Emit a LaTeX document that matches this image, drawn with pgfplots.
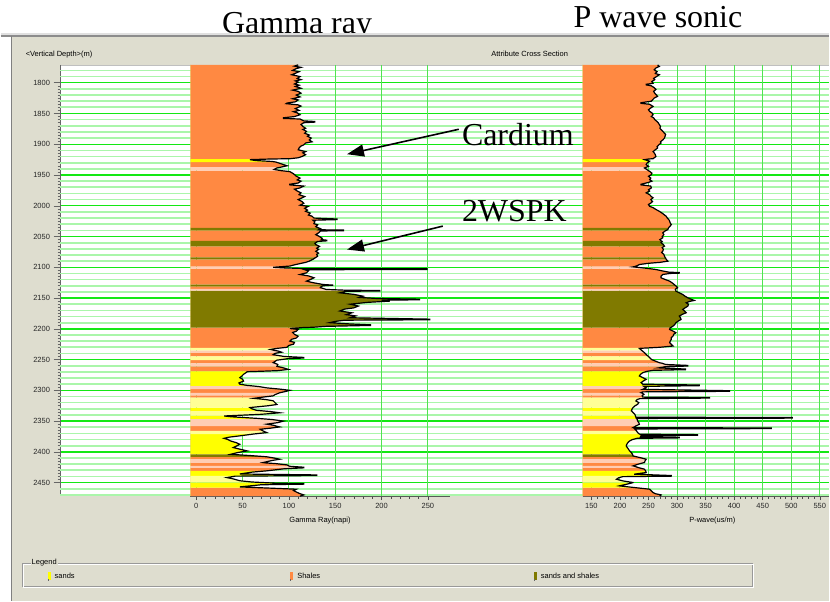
\documentclass[border=0pt]{standalone}
\usepackage{pgfplots}
\pgfplotsset{compat=1.18}
\usepackage{pgfplotstable}
\usetikzlibrary{arrows.meta}
\usepackage{fontspec}
\setmainfont{Liberation Sans}
\newfontfamily\titlefont{Liberation Serif}

\definecolor{framegray}{RGB}{222,221,207}
\definecolor{shale}{RGB}{255,137,66}
\definecolor{sand}{RGB}{255,255,0}
\definecolor{mixed}{RGB}{128,122,0}
\definecolor{palesand}{RGB}{255,255,150}
\definecolor{paleshale}{RGB}{255,205,180}
\definecolor{gridminor}{RGB}{170,246,170}
\definecolor{gridmajor}{RGB}{20,232,20}
\definecolor{gridvert}{RGB}{80,228,80}

% Gamma ray log: depth (m), GR (API), lithology code
% lith: 0 track edge, 1 shales, 2 sands, 3 sands and shales, 4 shaly streak, 5 sandy streak
\pgfplotstableread{
depth gr lith
1771 -6.5 0
1771 110 1
1773 106 1
1775 113 1
1777 108 1
1780 104 1
1782 111 1
1784 108 1
1787 103 1
1790 112 1
1793 109 1
1795 113 1
1797 107 1
1799 110 1
1802 106 1
1804 111 1
1806 107 1
1809 113 1
1812 104 1
1814 110 1
1817 113 1
1820 108 1
1823 112 1
1826 104 1
1828 110 1
1831 107 1
1833 98 1
1834 97 1
1836 110 1
1838 113 1
1842 107 1
1845 111 1
1847 105 1
1849 109 1
1852 112 1
1855 106 1
1857 94 1
1858 94 1
1859 112 1
1862 116 1
1863 128 1
1864 128 1
1865 116 1
1868 113 1
1871 115 1
1874 118 1
1876 115 1
1879 119 1
1882 117 1
1885 122 1
1887 120 1
1890 124 1
1893 122 1
1896 125 1
1898 118 1
1901 116 1
1903 113 1
1906 111 1
1909 110 1
1912 118 1
1914 115 1
1917 118 1
1920 114 1
1922 110 1
1923.5 101 1
1924 80 1
1924 80 2
1925 58 2
1926.5 64 2
1928 82 2
1929 86 2
1929 86 1
1931 90 1
1933 94 1
1935 98 1
1937 92 1
1937 92 4
1938.5 87 4
1941 84 4
1943 92 4
1943 92 1
1944.5 101 1
1948 105 1
1952 108 1
1955 112 1
1958 109 1
1960 113 1
1963 110 1
1965 101 1
1966 101 1
1968 116 1
1971 112 1
1973 106 1
1976 109 1
1979 113 1
1982 111 1
1985 117 1
1988 113 1
1990 110 1
1993 114 1
1996 116 1
1999 112 1
2001 121 1
2004 117 1
2007 120 1
2009 118 1
2012 123 1
2015 121 1
2017 125 1
2020 127 1
2021.5 152 1
2022.5 152 1
2023.5 126 1
2026 128 1
2029 127 1
2031 131 1
2034 129 1
2036 132 1
2036 132 3
2037 134 3
2039 132 3
2039.5 159 3
2040 159 3
2040 159 1
2040.5 159 1
2041 134 1
2044 132 1
2047 129 1
2050 133 1
2053 136 1
2055 135 1
2056 141 1
2057 141 1
2057 141 3
2058 131 3
2061 128 3
2063 129 3
2066 133 3
2066 133 1
2069 130 1
2071 132 1
2074 129 1
2077 132 1
2079 130 1
2082 131 1
2084 129 1
2084 129 3
2085 128 3
2087 126 3
2087 126 1
2090 122 1
2092 118 1
2094 112 1
2096 106 1
2098 101 1
2099 92 1
2099 92 4
2100 83 4
2101 95 4
2102 116 4
2102 116 1
2102.5 249 1
2103.5 249 1
2104 117 1
2106 121 1
2109 119 1
2111.7 112 1
2114 121 1
2117 127 1
2120 123 1
2122.5 119 1
2125 126 1
2128 137 1
2128 137 3
2129 148 3
2130 137 3
2131 135 3
2131 135 1
2133 134 1
2135 138 1
2135 138 4
2136 140 4
2137.3 162 4
2137.7 198 4
2138 198 4
2138 198 3
2138.5 198 3
2139 162 3
2141.5 155 3
2144 170 3
2147 180 3
2149 176 3
2150.7 195 3
2151.8 241 3
2152.8 241 3
2153.5 200 3
2155 209 3
2157 185 3
2160 166 3
2163 175 3
2166 170 3
2168 160 3
2171 155 3
2174 168 3
2177 162 3
2179 172 3
2182 166 3
2184.3 252 3
2185.3 252 3
2186 160 3
2188 150 3
2190 144 3
2192 165 3
2193.5 188 3
2194.5 188 3
2196 140 3
2197.5 126 3
2198 115 3
2198 115 1
2199.5 101 1
2201 110 1
2204 108 1
2206 104 1
2209 106 1
2212 110 1
2215 108 1
2217 103 1
2220 101 1
2222 106 1
2225 105 1
2227 100 1
2230 98 1
2231 92 1
2231 92 5
2232 86 5
2233.5 80 5
2235 84 5
2235 84 4
2236 88 4
2238 92 4
2239 88 4
2239 88 1
2240 85 1
2242 83 1
2245 95 1
2245 95 5
2246.5 116 5
2247.5 116 5
2248.5 99 5
2251 87 5
2251 87 1
2253 85 1
2255 83 1
2256 85 1
2256 85 4
2258 88 4
2261 87 4
2261 87 1
2263 93 1
2266 99.5 1
2268 88 1
2269 70 1
2269 70 2
2269.7 55 2
2272 53 2
2274 51 2
2277 49 2
2279.4 47 2
2282 50 2
2285 51 2
2288 46 2
2290 47 2
2292 55 2
2293 62 2
2293 62 4
2294 68 4
2296 76 4
2298 90 4
2298 90 1
2300 101 1
2302 96 1
2304 90 1
2304 90 4
2307 85 4
2308 84 4
2308 84 1
2309 83 1
2311 72 1
2312 67 1
2312 67 5
2313 62 5
2315 75 5
2317 83 5
2320 85 5
2323 87 5
2325 78 5
2328 58 5
2328 58 2
2330 60 2
2332.5 65 2
2334 76 2
2334 76 5
2334.5 80 5
2336.5 90 5
2339 70 5
2341 40 5
2341 40 2
2341.7 30 2
2343 38 2
2345.5 65 2
2347 78 2
2347 78 4
2347.5 82 4
2350 94 4
2352.5 88 4
2355 76 4
2357 84 4
2358 86 4
2358 86 1
2359.5 90 1
2361.5 80 1
2363.3 69 1
2366 72 1
2366 72 5
2368.7 76 5
2371 62 5
2371 62 2
2374 47 2
2376 36 2
2378 30 2
2380 34 2
2382.3 37 2
2385 43 2
2387.7 47 2
2390 44 2
2393 40 2
2396 48 2
2398.5 55 2
2401 45 2
2404 37 2
2404 37 3
2406 58 3
2408 76 3
2408 76 1
2410 84 1
2412 90 1
2412 90 4
2414 82 4
2417.4 72 4
2418 75 4
2418 75 1
2419 85 1
2421.2 98 1
2423 100 1
2423 100 4
2423.5 101 4
2425 116 4
2426 116 4
2426 116 1
2427.5 95 1
2430.9 76 1
2431 75 1
2431 75 2
2433 60 2
2436 47 2
2437.5 130 2
2438.5 130 2
2439 86 2
2439 86 5
2439.5 42 5
2441.8 33 5
2444 40 5
2447 47 5
2449 60 5
2450 73 5
2450 73 2
2451 87 2
2451.5 116 2
2452.5 116 2
2453.5 70 2
2457 47 2
2458 63 2
2458 63 1
2459 80 1
2460.7 108 1
2463 105 1
2466 109 1
2468 112 1
2470 116 1
2472 112 1
2472 -6.5 0
}\grlog

% P-wave sonic log: depth (m), slowness (us/m), lithology code
\pgfplotstableread{
depth dt lith
1771 134.6 0
1771 266 1
1773.5 269 1
1776 263 1
1779 260 1
1782 265 1
1785 262 1
1787 269 1
1790 264 1
1793 259 1
1795 261 1
1798 256 1
1801 258 1
1802.5 246 1
1803.5 246 1
1805 255 1
1808 260 1
1811 263 1
1814 259 1
1817 261 1
1820 264 1
1822 266 1
1825 260 1
1828 257 1
1830 255 1
1832.5 237 1
1833.5 237 1
1835 252 1
1838.5 258 1
1841 254 1
1844 250 1
1846.6 252 1
1849 256 1
1852 258 1
1855 255 1
1857 259 1
1860 261 1
1863 265 1
1865 267 1
1868 269 1
1871 271 1
1874 270 1
1876 272 1
1879 275 1
1882 278 1
1884 280 1
1887 279 1
1890 278 1
1893 275 1
1896 271 1
1898 272 1
1901 268 1
1904 265 1
1906 266 1
1909 262 1
1912 258 1
1914 260 1
1917 262 1
1920 263 1
1923.5 258 1
1924 250 1
1924 250 2
1925 243 2
1927.5 252 2
1929 250 2
1929 250 1
1930 248 1
1933 246 1
1936 250 1
1937 247 1
1937 247 4
1938.6 243 4
1941 247 4
1943 250 4
1943 250 1
1944 252 1
1947 256 1
1949.4 255 1
1952 250 1
1955 254 1
1957.5 252 1
1960 256 1
1962 250 1
1965 237 1
1966 237 1
1968 254 1
1971 255 1
1974 250 1
1976 252 1
1979 246 1
1982 252 1
1985 255 1
1987 258 1
1990 254 1
1993 257 1
1995 255 1
1998 250 1
2000.8 252 1
2003 258 1
2006 263 1
2009 269 1
2012 274 1
2015 278 1
2017 281 1
2020 283 1
2023 286 1
2025 287 1
2028 288 1
2030.5 290 1
2033 288 1
2036 285 1
2036 285 3
2038.7 284 3
2040 281 3
2040 281 1
2041 279 1
2044 275 1
2047 277 1
2050 274 1
2052 275 1
2055 270 1
2057 272 1
2057 272 3
2058 274 3
2060 272 3
2063 276 3
2065.7 278 3
2066 277 3
2066 277 1
2068 274 1
2071 276 1
2073.8 275 1
2076 273 1
2079 277 1
2082 278 1
2084 279 1
2084 279 3
2085 280 3
2087 281 3
2087 281 1
2088 282 1
2090 284 1
2092 270 1
2093.5 250 1
2095.5 234 1
2097.5 230 1
2099 225 1
2099 225 4
2099.3 223 4
2101 240 4
2102 250 4
2102 250 1
2103.6 263 1
2106 275 1
2108 286 1
2108.5 304 1
2109.5 304 1
2110 288 1
2111.7 275 1
2114.4 272 1
2117.1 272 1
2119.8 279 1
2122.5 287 1
2125 291 1
2128 295 1
2128 295 3
2131 299 3
2131 299 1
2133.3 301 1
2135 298 1
2135 298 4
2136 297 4
2138 298 4
2138 298 3
2138.8 298 3
2141.5 304 3
2144.2 310 3
2147 314 3
2149.6 319 3
2152 325 3
2153.9 330 3
2155.5 322 3
2157.7 316 3
2160 320 3
2163.1 319 3
2166 314 3
2168.5 310 3
2171 313 3
2173.9 316 3
2176.6 309 3
2179.3 304 3
2182 306 3
2184.8 307 3
2187.5 302 3
2190.2 298 3
2193 296 3
2195.6 293 3
2198 289 3
2198 289 1
2198.3 288 1
2201 287 1
2203.7 293 1
2206.4 298 1
2209 294 1
2211.8 293 1
2214.5 290 1
2217.2 290 1
2220 288 1
2222.6 287 1
2225.3 290 1
2228 293 1
2230 270 1
2231 250 1
2231 250 5
2231.8 234 5
2235 238 5
2235 238 4
2238.9 243 4
2239 243 4
2239 243 1
2241.6 246 1
2244.3 249 1
2245 250 1
2245 250 5
2247 252 5
2249.7 255 5
2251 258 5
2251 258 1
2252.4 262 1
2255.1 269 1
2256 274 1
2256 274 4
2258 280 4
2259.5 319 4
2260.5 319 4
2261 300 4
2261 300 1
2261.5 280 1
2263.5 268 1
2265.4 315 1
2266.4 315 1
2267.5 258 1
2269 248 1
2269 248 2
2269.5 246 2
2271.3 240 2
2274 236 2
2276.7 234 2
2279.4 240 2
2282.1 246 2
2284.8 241 2
2287.5 237 2
2290 240 2
2291.4 339 2
2292.4 339 2
2293 290 2
2293 290 4
2293.5 242 4
2295.7 246 4
2298 241 4
2298 241 1
2298.4 240 1
2300.6 392 1
2301.6 392 1
2302.5 240 1
2303.8 237 1
2304 238 1
2304 238 4
2306.5 242 4
2308 240 4
2308 240 1
2309 239 1
2311 240 1
2311.6 357 1
2312 357 1
2312 357 5
2312.6 357 5
2313.5 235 5
2315 230 5
2317.3 228 5
2320 233 5
2322.7 231 5
2325.4 226 5
2328 223 5
2328 223 2
2330.8 221 2
2333.5 220 2
2334 221 2
2334 221 5
2336.3 223 5
2339 226 5
2341 227 5
2341 227 2
2341.7 227 2
2343.7 228 2
2344.2 502 2
2345.2 502 2
2345.7 229 2
2347 230 2
2347 230 4
2349.8 231 4
2352.5 233 4
2355.2 234 4
2357.9 228 4
2358 228 4
2358 228 1
2360.6 223 1
2361.2 465 1
2362.2 465 1
2362.8 226 1
2365.6 229 1
2366 229 1
2366 229 5
2368.7 231 5
2371 234 5
2371 234 2
2371.3 235 2
2372 336 2
2373 336 2
2373.7 237 2
2375.5 236 2
2376.4 304 2
2377.3 304 2
2378 230 2
2380 222 2
2382.3 217 2
2385 214 2
2387.7 212 2
2390.4 211 2
2393.1 213 2
2395.8 215 2
2398.5 217 2
2401.2 220 2
2404 222 2
2404 222 3
2406.6 223 3
2408 229 3
2408 229 1
2409.3 235 1
2412 246 1
2412 246 4
2414.7 244 4
2417.4 243 4
2418 240 4
2418 240 1
2420 232 1
2422.8 223 1
2423 224 1
2423 224 4
2425.5 232 4
2426 234 4
2426 234 1
2428.2 243 1
2431 245 1
2431 245 2
2433.6 246 2
2436.3 225 2
2438.5 290 2
2439 290 2
2439 290 5
2439.5 290 5
2440.3 205 5
2442 198 5
2444.5 194 5
2447.2 205 5
2449.9 223 5
2450 223 5
2450 223 2
2452.6 212 2
2455.3 199 2
2458 225 2
2458 225 1
2460.7 252 1
2463.4 255 1
2466.1 258 1
2468 262 1
2470 272 1
2472 270 1
2472 134.6 0
}\dtlog

\tikzset{smalltext/.style={font=\fontsize{7.5}{9}\selectfont}}
\pgfplotsset{
  track/.style={
    scale only axis, height=432pt, anchor=south west,
    y dir=reverse, ymin=1771, ymax=2472,
    axis x line=bottom, axis y line=none,
    x axis line style={-, black!65, line width=0.6pt},
    xmajorgrids, major grid style={gridvert, line width=0.9pt},
    tick align=outside, major tick length=4pt, minor tick length=2.5pt,
    minor x tick num=4,
    every tick/.style={black!70, line width=0.5pt},
    ticklabel style={smalltext, text=black!85},
    /pgf/number format/assume math mode=true,
    /pgf/number format/1000 sep={},
  },
}

\begin{document}
\begin{tikzpicture}[x=1pt,y=1pt]
% page background sets the picture extent
\fill[white] (0,0) rectangle (830,602);

% slide titles
\node[font=\titlefont\fontsize{32}{36}\selectfont, anchor=base, inner sep=0pt] at (297,568.5) {Gamma ray};
\node[font=\titlefont\fontsize{32}{36}\selectfont, anchor=base, inner sep=0pt] at (658.5,574) {P wave sonic};

% application window
\fill[black!12] (0,566) rectangle (830,569);
\fill[framegray] (11,0) rectangle (830,566);
\draw[black!45, line width=1.2pt] (0,566) -- (830,566);
\draw[black!50, line width=1.5pt] (11,0) -- (11,566);

\node[smalltext, anchor=base west, inner sep=0pt] at (25,545.5) {<Vertical Depth>(m)};
\node[smalltext, anchor=base, inner sep=0pt] at (530,545.5) {Attribute Cross Section};

% plotting canvas
\fill[white] (60,105) rectangle (830,537);
\draw[black!25] (60,537) -- (830,537);

% depth axis with horizontal grid
\begin{axis}[
  at={(60pt,105pt)}, anchor=south west, scale only axis,
  width=770pt, height=432pt,
  xmin=0, xmax=1, ymin=1771, ymax=2472, y dir=reverse,
  axis x line=bottom, x axis line style={draw=none}, xtick=\empty,
  axis y line=left,
  y axis line style={-, black!60, line width=0.7pt},
  ytick={1800,1850,...,2450}, minor y tick num=9,
  tick align=outside, major tick length=7pt, minor tick length=3pt,
  every tick/.style={black!60, line width=0.5pt},
  yticklabel style={smalltext, text=black!85},
  /pgf/number format/assume math mode=true,
  /pgf/number format/1000 sep={},
  ymajorgrids, major grid style={gridmajor, line width=1.4pt},
  extra y ticks={1780,1790,1810,1820,1830,1840,1860,1870,1880,1890,1910,1920,1930,1940,1960,1970,1980,1990,2010,2020,2030,2040,2060,2070,2080,2090,2110,2120,2130,2140,2160,2170,2180,2190,2210,2220,2230,2240,2260,2270,2280,2290,2310,2320,2330,2340,2360,2370,2380,2390,2410,2420,2430,2440,2460,2470},
  extra y tick labels={},
  extra y tick style={grid=major, major grid style={gridminor, line width=1.7pt}, major tick length=0pt},
]
\addplot[draw=none] coordinates {(0,1771) (1,2472)};
\end{axis}

% gamma ray track: lithology fill from the track edge to the curve, then the curve
\begin{axis}[track, at={(190pt,105pt)}, width=260pt,
  xmin=-6.5, xmax=273.7, xtick={0,50,...,250}]
\addplot[draw=none, fill=shale] table[x expr={\thisrow{lith}==1 ? \thisrow{gr} : -6.5}, y=depth] {\grlog};
\addplot[draw=none, fill=sand] table[x expr={\thisrow{lith}==2 ? \thisrow{gr} : -6.5}, y=depth] {\grlog};
\addplot[draw=none, fill=mixed] table[x expr={\thisrow{lith}==3 ? \thisrow{gr} : -6.5}, y=depth] {\grlog};
\addplot[draw=none, fill=paleshale] table[x expr={\thisrow{lith}==4 ? \thisrow{gr} : -6.5}, y=depth] {\grlog};
\addplot[draw=none, fill=palesand] table[x expr={\thisrow{lith}==5 ? \thisrow{gr} : -6.5}, y=depth] {\grlog};
\addplot[black, line width=1.2pt, restrict x to domain=-5:700] table[x=gr, y=depth] {\grlog};
\end{axis}

% sonic track
\begin{axis}[track, at={(583pt,105pt)}, width=247pt,
  xmin=134.6, xmax=566.4, xtick={150,200,...,550}]
\addplot[draw=none, fill=shale] table[x expr={\thisrow{lith}==1 ? \thisrow{dt} : 134.6}, y=depth] {\dtlog};
\addplot[draw=none, fill=sand] table[x expr={\thisrow{lith}==2 ? \thisrow{dt} : 134.6}, y=depth] {\dtlog};
\addplot[draw=none, fill=mixed] table[x expr={\thisrow{lith}==3 ? \thisrow{dt} : 134.6}, y=depth] {\dtlog};
\addplot[draw=none, fill=paleshale] table[x expr={\thisrow{lith}==4 ? \thisrow{dt} : 134.6}, y=depth] {\dtlog};
\addplot[draw=none, fill=palesand] table[x expr={\thisrow{lith}==5 ? \thisrow{dt} : 134.6}, y=depth] {\dtlog};
\addplot[black, line width=1.2pt, restrict x to domain=140:700] table[x=dt, y=depth] {\dtlog};
\end{axis}

\node[smalltext, anchor=center] at (320,81) {Gamma Ray(napi)};
\node[smalltext, anchor=center] at (713,81) {P-wave(us/m)};

% formation markers
\node[font=\titlefont\fontsize{32}{36}\selectfont, anchor=base west, inner sep=0pt] at (462,456.5) {Cardium};
\node[font=\titlefont\fontsize{32}{36}\selectfont, anchor=base west, inner sep=0pt] at (462,380) {2WSPK};
\draw[line width=1.6pt, -{Triangle[length=17pt,width=12pt]}] (459,472.5) -- (347,447.5);
\draw[line width=1.6pt, -{Triangle[length=17pt,width=12pt]}] (443,375.5) -- (347,352);

% legend group box
\draw[black!40] (22,15) rectangle (753,38);
\draw[white] (23,14) rectangle (754,37);
\node[smalltext, fill=framegray, inner sep=1pt, anchor=west] at (30,38) {Legend};
\fill[sand] (47,21) rectangle (50,29);
\fill[black!60] (47,20) rectangle (48,22);
\node[smalltext, anchor=west, inner sep=1pt] at (53,25.5) {sands};
\fill[shale] (290,21) rectangle (293,29);
\fill[black!60] (290,20) rectangle (291,22);
\node[smalltext, anchor=west, inner sep=1pt] at (296,25.5) {Shales};
\fill[mixed] (534,21) rectangle (537,29);
\fill[black!60] (534,20) rectangle (535,22);
\node[smalltext, anchor=west, inner sep=1pt] at (540,25.5) {sands and shales};
\end{tikzpicture}
\end{document}
